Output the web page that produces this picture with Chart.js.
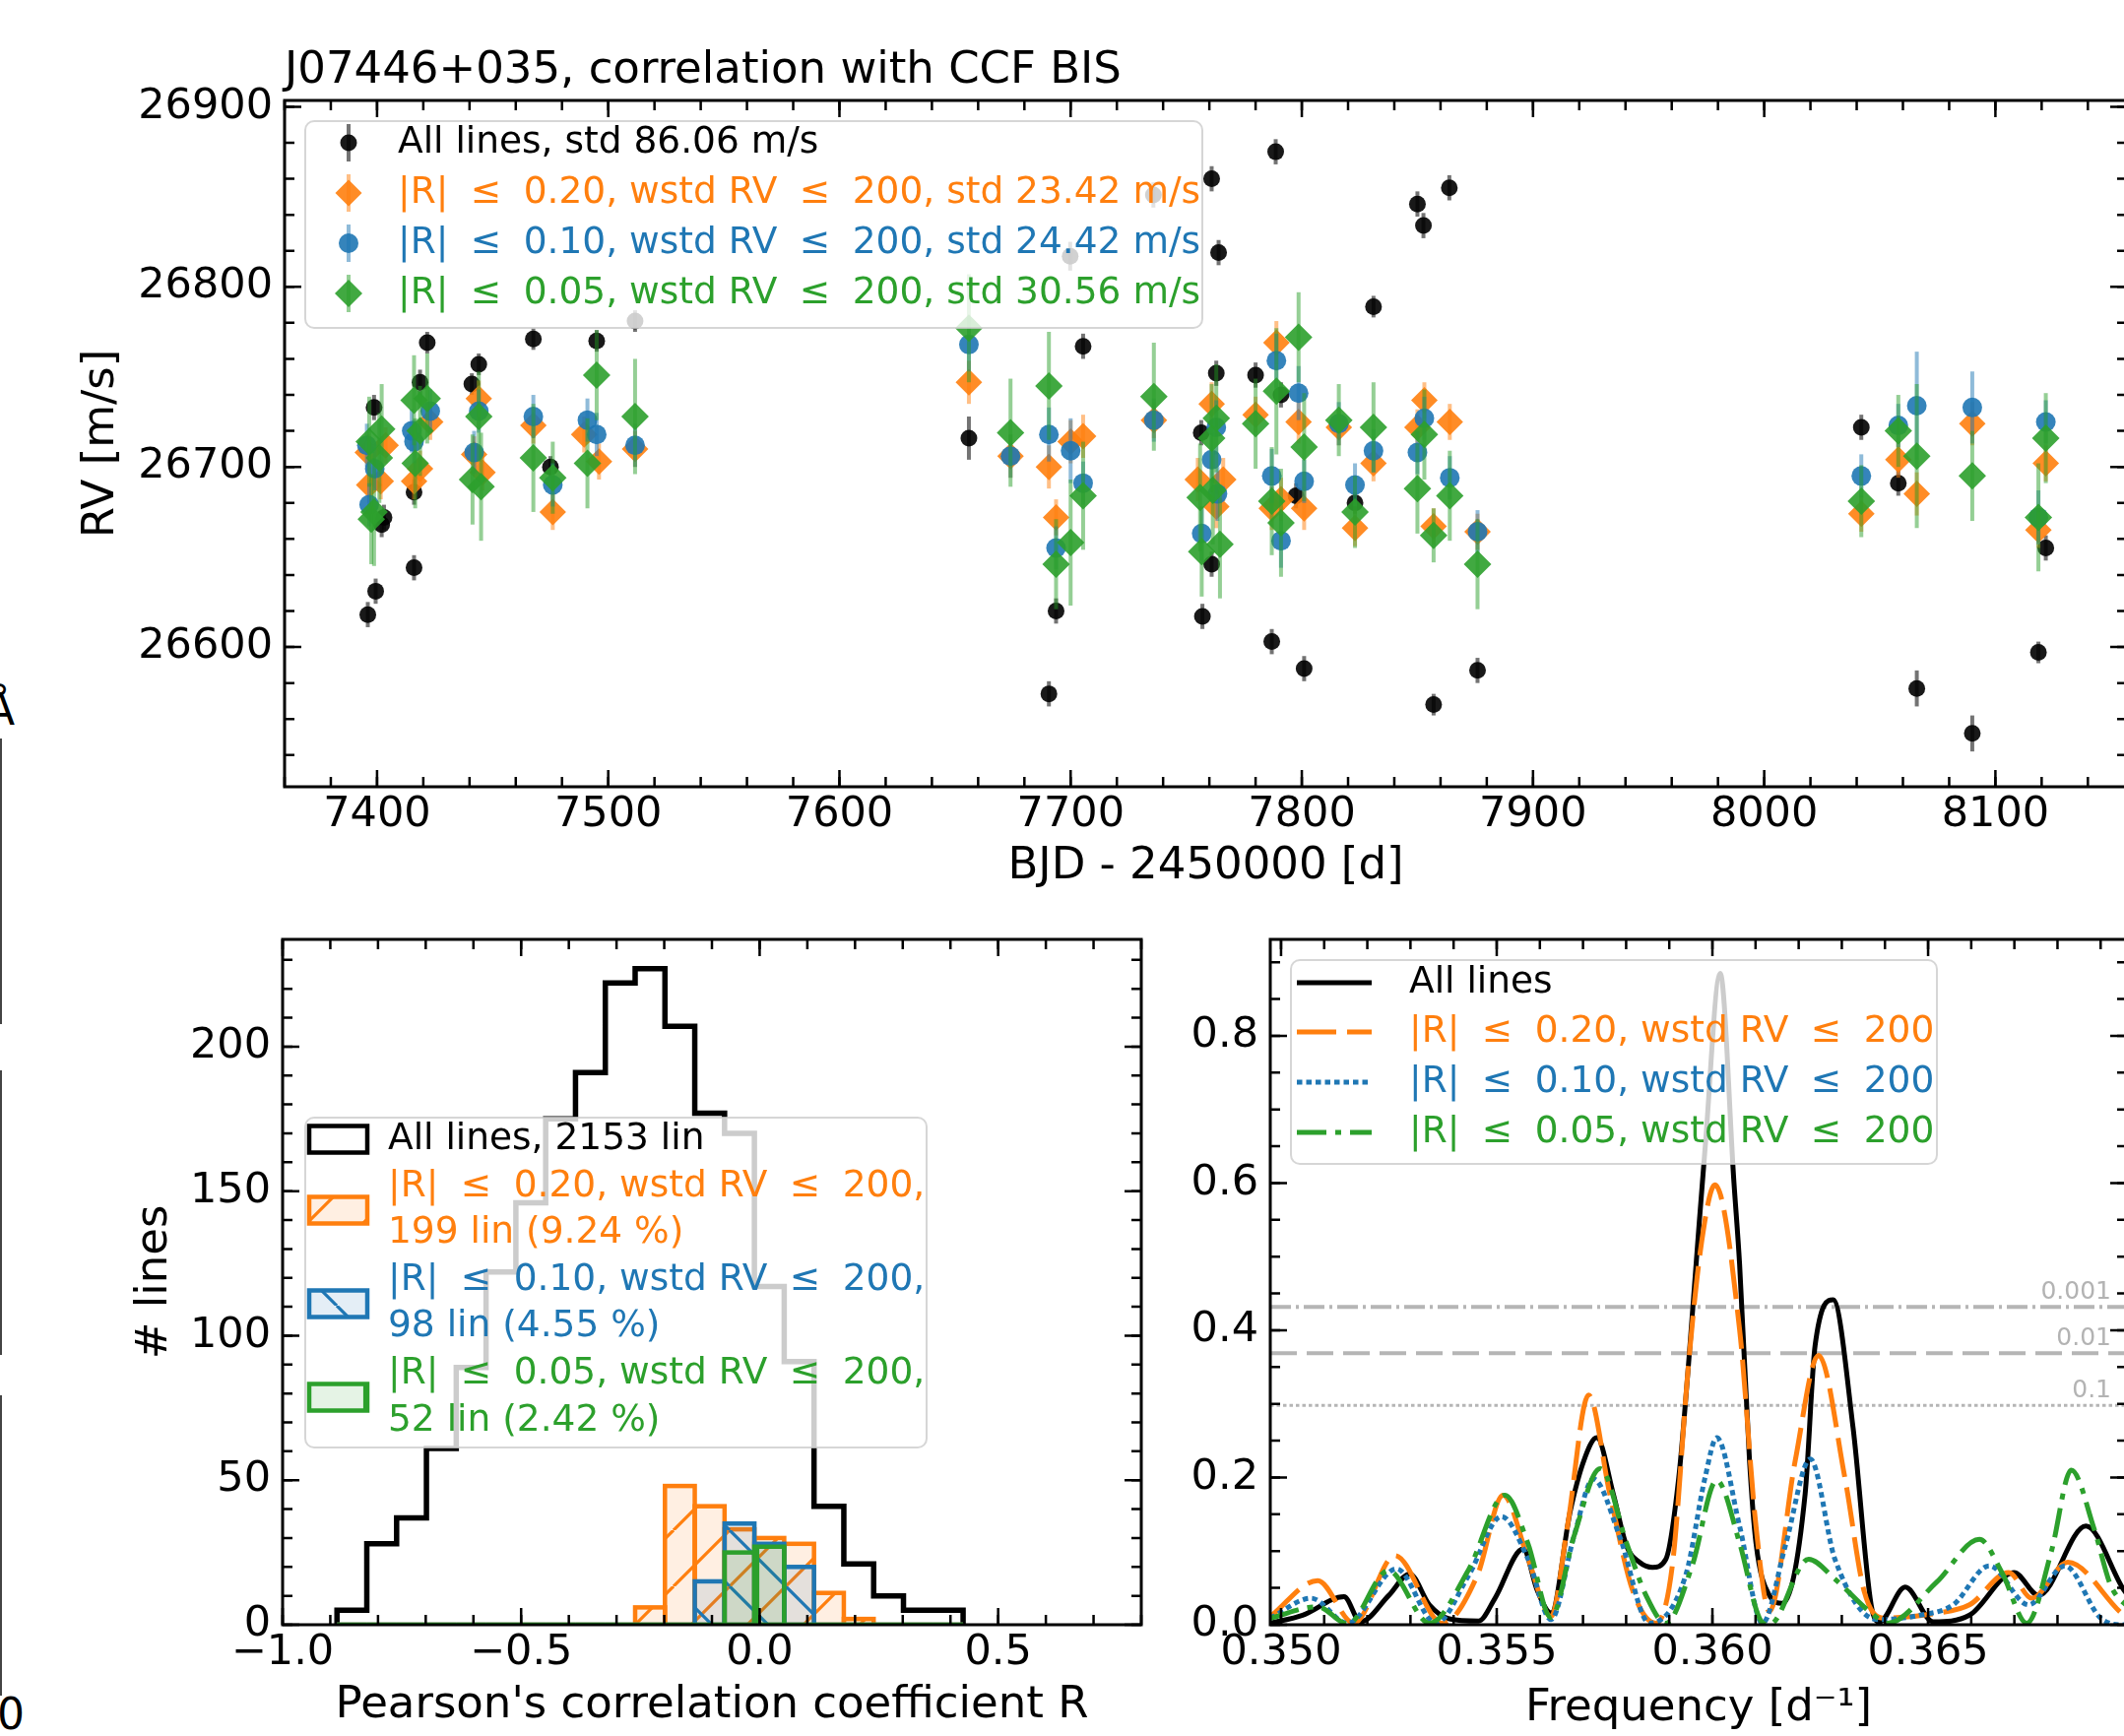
<!DOCTYPE html>
<html>
<head>
<meta charset="utf-8">
<script src="https://cdn.jsdelivr.net/npm/chart.js@4.4.1/dist/chart.umd.min.js"></script>
<style>
  html, body { margin: 0; padding: 0; background: #fff; overflow: hidden; width: 2157px; height: 1763px; }
  canvas { position: absolute; }
  #rv { left: 0; top: 0; }
  #hist { left: 0; top: 870px; }
  #per { left: 1180px; top: 870px; }
  .frag { position: absolute; font-family: 'DejaVu Sans', sans-serif; font-size: 44px; line-height: 44px; color: #000; }
  .fragline { position: absolute; left: 0; width: 2px; background: #444; }
</style>
</head>
<body>
<!-- bits of the neighbouring panel that got cut off on the left -->
<div class="frag" style="left:-15px; top:699px;">Å</div>
<div class="frag" style="left:-3px; top:1719px;">0</div>
<div class="fragline" style="top:750px; height:290px;"></div>
<div class="fragline" style="top:1087px; height:289px;"></div>
<div class="fragline" style="top:1417px; height:305px;"></div>

<canvas id="rv" width="2200" height="930" style="width:2200px;height:930px"></canvas>
<canvas id="hist" width="1200" height="893" style="width:1200px;height:893px"></canvas>
<canvas id="per" width="1020" height="893" style="width:1020px;height:893px"></canvas>

<script>
// ---- RV time series (BJD - 2450000, RV in m/s, 1-sigma error) ----
const allT   = [7396, 7399.4, 7398.7, 7402, 7403, 7416, 7416, 7418.6, 7421.7, 7441, 7444, 7467.6, 7475, 7495, 7511.6,
                7656, 7690.6, 7693.7, 7699.8, 7705.4, 7735.8, 7756.5, 7757, 7761, 7761, 7763, 7764, 7780, 7787, 7788.7,
                7791, 7797.5, 7801, 7823, 7831, 7850, 7852.6, 7857, 7863.8, 7876, 8042, 8058, 8066, 8090, 8118.6, 8121.8];
const allRV  = [26618, 26631, 26733, 26668, 26672, 26644, 26686, 26747, 26769, 26746, 26757, 26771, 26700, 26770, 26781,
                26716, 26574, 26620, 26817, 26767, 26851, 26719, 26617, 26860, 26646, 26752, 26819, 26751, 26603, 26875,
                26740, 26684, 26588, 26680, 26789, 26846, 26834, 26568, 26855, 26587, 26722, 26691, 26577, 26552, 26597, 26655];
const allErr = [7, 7, 7, 7, 7, 7, 7, 7, 6, 6, 6, 6, 6, 6, 6,
                12, 7, 7, 8, 7, 7, 7, 7, 7, 7, 7, 7, 7, 7, 7,
                7, 7, 7, 6, 6, 7, 7, 6, 7, 7, 7, 7, 10, 10, 6, 7];

const r20T   = [7396, 7396.6, 7401.6, 7403.7, 7416, 7418.6, 7423, 7442, 7444, 7445.6, 7467.6, 7476, 7489.6, 7496, 7511.6,
                7656, 7674, 7690.6, 7693.7, 7700, 7705.4, 7736, 7755, 7761, 7763, 7766, 7780, 7787, 7789, 7791,
                7798.6, 7801, 7816, 7823, 7831, 7850, 7853, 7857, 7864, 7876, 8042, 8058, 8066, 8090, 8118.6, 8121.8];
const r20RV  = [26708, 26690, 26692, 26712, 26692, 26699, 26725, 26707, 26738, 26697, 26723, 26675, 26718, 26703, 26710,
                26747, 26706, 26700, 26672, 26714, 26717, 26726, 26693, 26735, 26678, 26693, 26729, 26677, 26769, 26682,
                26725, 26677, 26722, 26666, 26702, 26722, 26737, 26667, 26725, 26664, 26674, 26704, 26685, 26724, 26665, 26702];
const r20Err = [10, 10, 10, 10, 10, 10, 10, 10, 10, 10, 10, 10, 10, 10, 10,
                12, 12, 12, 10, 12, 12, 10, 12, 12, 12, 12, 10, 12, 12, 12,
                12, 12, 10, 10, 10, 10, 10, 10, 10, 10, 10, 10, 12, 12, 10, 10];

const r10T   = [7395.6, 7396.6, 7399, 7415, 7416, 7423, 7442, 7444, 7467.6, 7476, 7491, 7495, 7511.6,
                7656, 7674, 7690.6, 7693.7, 7700, 7705.4, 7736, 7756.7, 7761, 7763, 7763.5, 7787, 7789, 7791, 7798.6,
                7801, 7816, 7823, 7831, 7850, 7853, 7864, 7876, 8042, 8058, 8066, 8090, 8118.6, 8121.8];
const r10RV  = [26712, 26679, 26699, 26720, 26714, 26731, 26708, 26731, 26728, 26690, 26726, 26718, 26712,
                26768, 26706, 26718, 26655, 26709, 26691, 26726, 26663, 26704, 26722, 26685, 26695, 26759, 26659, 26741,
                26692, 26724, 26690, 26709, 26708, 26727, 26694, 26664, 26695, 26723, 26734, 26733, 26672, 26725];
const r10Err = [12, 12, 12, 12, 12, 12, 12, 12, 12, 12, 12, 12, 12,
                15, 12, 15, 12, 18, 12, 12, 15, 15, 15, 15, 15, 15, 15, 15,
                12, 12, 12, 12, 12, 12, 12, 12, 12, 12, 30, 20, 15, 12];

const r05T   = [7396.6, 7397.5, 7398.7, 7401, 7402, 7416, 7416.5, 7418.6, 7421.7, 7441.3, 7444, 7445, 7467.6, 7476, 7491, 7495, 7511.6,
                7656, 7674, 7690.6, 7693.7, 7700, 7705.4, 7736, 7756, 7756.7, 7761, 7761.5, 7763, 7764.6, 7780, 7787, 7789, 7791,
                7798.6, 7801, 7816, 7823, 7831, 7850, 7853, 7857, 7864, 7876, 8042, 8058, 8066, 8090, 8118.6, 8121.8];
const r05RV  = [26714, 26671, 26675, 26705, 26721, 26737, 26702, 26720, 26738, 26693, 26728, 26689, 26705, 26694, 26702, 26751, 26728,
                26777, 26719, 26745, 26646, 26658, 26684, 26739, 26683, 26653, 26716, 26687, 26727, 26657, 26724, 26681, 26742, 26669,
                26772, 26711, 26726, 26675, 26722, 26688, 26718, 26662, 26684, 26646, 26681, 26720, 26706, 26695, 26672, 26716];
const r05Err = [25, 25, 30, 25, 25, 25, 25, 25, 25, 25, 25, 30, 30, 20, 25, 25, 32,
                30, 30, 30, 25, 35, 30, 30, 30, 25, 30, 30, 30, 30, 25, 30, 35, 30,
                25, 30, 20, 20, 25, 25, 25, 15, 25, 25, 20, 20, 40, 25, 30, 25];

const rvXTicks = [7400, 7500, 7600, 7700, 7800, 7900, 8000, 8100];
const rvYTicks = [26600, 26700, 26800, 26900];

// ---- histogram of Pearson R ----
const binEdges = [-0.886, -0.8235, -0.761, -0.6985, -0.636, -0.5735, -0.511, -0.4485, -0.386, -0.3235, -0.261,
                  -0.1985, -0.136, -0.0735, -0.011, 0.0515, 0.114, 0.1765, 0.239, 0.3015, 0.364, 0.4265];
const histAll = [5, 28, 37, 61, 89, 122, 146, 175, 191, 222, 227, 207, 177, 170, 117, 91, 41, 21, 10, 5, 5];
const histR20 = [0, 0, 0, 0, 0, 0, 0, 0, 0, 0, 6, 48, 41, 33, 30, 28, 11, 2, 0, 0, 0];
const histR10 = [0, 0, 0, 0, 0, 0, 0, 0, 0, 0, 0, 0, 15, 35, 28, 20, 0, 0, 0, 0, 0];
const histR05 = [0, 0, 0, 0, 0, 0, 0, 0, 0, 0, 0, 0, 0, 25, 27, 0, 0, 0, 0, 0, 0];
const histXTicks = [-1.0, -0.5, 0.0, 0.5];
const histYTicks = [0, 50, 100, 150, 200];

// ---- periodograms ----
const perAllF = [0.34975, 0.3505, 0.35146, 0.35184, 0.3525, 0.35298, 0.35344, 0.3539, 0.35458, 0.35496, 0.35561, 0.35595,
                 0.35626, 0.35671, 0.35702, 0.35732, 0.3577, 0.35801, 0.35831, 0.35861, 0.35892, 0.35922, 0.35945, 0.35968,
                 0.35983, 0.36018, 0.3605, 0.36063, 0.36086, 0.36101, 0.36132, 0.36162, 0.36215, 0.36238, 0.3628, 0.36326,
                 0.36368, 0.36387, 0.36447, 0.36512, 0.36596, 0.36699, 0.36756, 0.36866, 0.36954, 0.3697];
const perAllP = [0.002, 0.013, 0.038, 0.004, 0.04, 0.069, 0.027, 0.008, 0.005, 0.036, 0.103, 0.045,
                 0.016, 0.156, 0.223, 0.254, 0.178, 0.107, 0.085, 0.078, 0.089, 0.2, 0.357, 0.535,
                 0.647, 0.885, 0.6, 0.49, 0.223, 0.111, 0.04, 0.029, 0.178, 0.379, 0.4415, 0.268,
                 0.027, 0.004, 0.051, 0.004, 0.013, 0.071, 0.04, 0.134, 0.047, 0.035];
const perR20F = [0.34975, 0.35085, 0.35169, 0.35264, 0.35374, 0.35455, 0.35515, 0.35573, 0.35626, 0.35664, 0.35713, 0.35762,
                 0.35816, 0.35869, 0.35907, 0.35945, 0.35975, 0.36006, 0.36063, 0.36101, 0.36132, 0.36192, 0.36246, 0.36307,
                 0.36352, 0.36398, 0.3652, 0.36596, 0.36687, 0.3674, 0.36824, 0.36954, 0.3697];
const perR20P = [0.011, 0.060, 0.002, 0.094, 0.002, 0.067, 0.176, 0.089, 0.011, 0.134, 0.312, 0.178,
                 0.045, 0.002, 0.08, 0.357, 0.52, 0.5975, 0.401, 0.134, 0.018, 0.223, 0.366, 0.2,
                 0.045, 0.009, 0.0156, 0.027, 0.071, 0.036, 0.085, 0.013, 0.008];
const perR10F = [0.34975, 0.3507, 0.35154, 0.35268, 0.35359, 0.35435, 0.35511, 0.35572, 0.35626, 0.35679, 0.35724, 0.35785,
                 0.35854, 0.35938, 0.35983, 0.3601, 0.36063, 0.36116, 0.36169, 0.36227, 0.36284, 0.36383, 0.36482, 0.36558,
                 0.36642, 0.36733, 0.36817, 0.369, 0.36954, 0.3697];
const perR10P = [0.009, 0.036, 0.002, 0.076, 0.002, 0.067, 0.147, 0.09, 0.007, 0.12, 0.198, 0.12,
                 0.002, 0.067, 0.2, 0.254, 0.134, 0.002, 0.107, 0.225, 0.089, 0.007, 0.013, 0.027,
                 0.080, 0.027, 0.080, 0.009, 0.0, 0.0];
const perR05F = [0.34975, 0.35085, 0.35154, 0.35249, 0.35344, 0.35435, 0.35519, 0.35572, 0.35626, 0.35679, 0.3574, 0.35801,
                 0.35846, 0.35892, 0.35953, 0.3601, 0.36063, 0.36109, 0.36132, 0.36223, 0.36284, 0.36368, 0.36406, 0.3652,
                 0.36619, 0.36672, 0.36729, 0.36786, 0.36832, 0.36885, 0.36923, 0.3697];
const perR05P = [0.009, 0.0245, 0.001, 0.0736, 0.002, 0.075, 0.176, 0.111, 0.01, 0.12, 0.212, 0.111,
                 0.04, 0.002, 0.08, 0.196, 0.111, 0.009, 0.0, 0.089, 0.062, 0.016, 0.002, 0.058,
                 0.116, 0.07, 0.002, 0.1, 0.21, 0.13, 0.054, 0.02];
const fapLevels = [0.4316, 0.369, 0.298];
const fapLabels = ['0.001', '0.01', '0.1'];
const perXTicks = [0.350, 0.355, 0.360, 0.365];
const perYTicks = [0.0, 0.2, 0.4, 0.6, 0.8];

// ---------------------------------------------------------------
const FONT = "'DejaVu Sans', sans-serif";
const BLACK = '0,0,0', ORANGE = '255,127,14', BLUE = '31,119,180', GREEN = '44,160,44';
const rgba = (c, a) => `rgba(${c},${a})`;
const LEQ = '\u2002\u200A\u2264\u2002\u200A';
const pts = (xs, ys) => xs.map((x, i) => ({x: x, y: ys[i]}));
const fmtMinus = v => (v < 0 ? '\u2212' : '') + Math.abs(v).toFixed(1);

function fixedTicks(list) {
  return s => { s.ticks = list.map(v => ({value: v})); };
}

function axisCfg(o) {
  return {
    type: 'linear', min: o.min, max: o.max, offset: false,
    grid: {display: false, drawTicks: false}, border: {display: false},
    afterBuildTicks: fixedTicks(o.ticks),
    afterFit: o.fit,
    ticks: {color: '#000', font: {family: FONT, size: 43}, padding: o.pad, maxRotation: 0, autoSkip: false, callback: o.fmt},
    title: {display: !!o.title, text: o.title || '', color: '#000', font: {family: FONT, size: 45}, padding: 0}
  };
}

// matplotlib-like box with inward ticks on all four sides
function framePlugin(t) {
  return {
    id: 'frame',
    afterDatasetsDraw(chart) {
      const {ctx, chartArea: a} = chart;
      const sx = chart.scales.x, sy = chart.scales.y;
      ctx.save();
      ctx.strokeStyle = '#000';
      ctx.lineWidth = 2.5;
      const marks = (sc, step, len) => {
        const k0 = Math.ceil(sc.min / step - 1e-6), k1 = Math.floor(sc.max / step + 1e-6);
        for (let k = k0; k <= k1; k++) {
          const p = sc.getPixelForValue(k * step);
          ctx.beginPath();
          if (sc === sx) {
            ctx.moveTo(p, a.bottom); ctx.lineTo(p, a.bottom - len);
            ctx.moveTo(p, a.top); ctx.lineTo(p, a.top + len);
          } else {
            ctx.moveTo(a.left, p); ctx.lineTo(a.left + len, p);
            ctx.moveTo(a.right, p); ctx.lineTo(a.right - len, p);
          }
          ctx.stroke();
        }
      };
      marks(sx, t.xMinor, 10); marks(sx, t.xMajor, 17);
      marks(sy, t.yMinor, 10); marks(sy, t.yMajor, 17);
      ctx.lineWidth = 3;
      ctx.strokeRect(a.left, a.top, a.right - a.left, a.bottom - a.top);
      ctx.restore();
    }
  };
}

// vertical error bars, drawn just under each dataset's markers
const errorBars = {
  id: 'errorBars',
  beforeDatasetDraw(chart, args) {
    const ds = chart.data.datasets[args.index];
    if (!ds.errors) return;
    const {ctx, chartArea: a} = chart, sy = chart.scales.y;
    ctx.save();
    ctx.beginPath(); ctx.rect(a.left, a.top, a.right - a.left, a.bottom - a.top); ctx.clip();
    ctx.strokeStyle = ds.errorColor;
    ctx.lineWidth = 4;
    args.meta.data.forEach((p, i) => {
      const v = ds.data[i].y, e = ds.errors[i];
      ctx.beginPath();
      ctx.moveTo(p.x, sy.getPixelForValue(v - e));
      ctx.lineTo(p.x, sy.getPixelForValue(v + e));
      ctx.stroke();
    });
    ctx.restore();
  }
};

// bar edges centred on the bin edges (also draws zero-height bins as a line)
const barEdges = {
  id: 'barEdges',
  afterDatasetDraw(chart, args) {
    const ds = chart.data.datasets[args.index];
    if (!ds.edgeColor) return;
    const {ctx, chartArea: a} = chart;
    ctx.save();
    ctx.beginPath(); ctx.rect(a.left, a.top, a.right - a.left, a.bottom - a.top); ctx.clip();
    ctx.strokeStyle = ds.edgeColor;
    ctx.lineWidth = 4.5;
    ctx.lineJoin = 'miter';
    args.meta.data.forEach(bar => {
      const {x, y, base, width} = bar.getProps(['x', 'y', 'base', 'width'], true);
      ctx.strokeRect(x - width / 2, Math.min(y, base), width, Math.abs(base - y));
    });
    ctx.restore();
  }
};

function marker(ctx, shape, x, y, r, color) {
  ctx.fillStyle = color;
  ctx.beginPath();
  if (shape === 'circle') ctx.arc(x, y, r, 0, Math.PI * 2);
  else { ctx.moveTo(x, y - r); ctx.lineTo(x + r, y); ctx.lineTo(x, y + r); ctx.lineTo(x - r, y); ctx.closePath(); }
  ctx.fill();
}

function roundBox(ctx, x, y, w, h, r) {
  ctx.beginPath();
  ctx.moveTo(x + r, y);
  ctx.lineTo(x + w - r, y); ctx.arcTo(x + w, y, x + w, y + r, r);
  ctx.lineTo(x + w, y + h - r); ctx.arcTo(x + w, y + h, x + w - r, y + h, r);
  ctx.lineTo(x + r, y + h); ctx.arcTo(x, y + h, x, y + h - r, r);
  ctx.lineTo(x, y + r); ctx.arcTo(x, y, x + r, y, r);
  ctx.closePath();
}

function legendPlugin(L) {
  return {
    id: 'mplLegend',
    afterDraw(chart) {
      const ctx = chart.ctx;
      ctx.save();
      roundBox(ctx, L.x, L.y, L.w, L.h, 9);
      ctx.fillStyle = 'rgba(255,255,255,0.8)';
      ctx.fill();
      ctx.lineWidth = 2;
      ctx.strokeStyle = 'rgba(204,204,204,0.8)';
      ctx.stroke();
      for (const it of L.items) {
        const hy = it.hy;
        if (it.kind === 'err') {
          ctx.strokeStyle = it.errColor; ctx.lineWidth = 4;
          ctx.beginPath(); ctx.moveTo(L.hx, hy - 19); ctx.lineTo(L.hx, hy + 19); ctx.stroke();
          marker(ctx, it.shape, L.hx, hy, it.r, it.color);
        } else if (it.kind === 'patch') {
          if (it.fill) { ctx.fillStyle = it.fill; ctx.fillRect(L.hx, hy - 13.5, 59, 27); }
          ctx.strokeStyle = it.color; ctx.lineWidth = 4.5;
          ctx.strokeRect(L.hx, hy - 13.5, 59, 27);
        } else {
          ctx.strokeStyle = it.color; ctx.lineWidth = 5;
          ctx.setLineDash(it.dash || []);
          ctx.beginPath(); ctx.moveTo(L.hx, hy); ctx.lineTo(L.hx2, hy); ctx.stroke();
          ctx.setLineDash([]);
        }
        ctx.font = `37.5px ${FONT}`;
        ctx.textAlign = 'left';
        ctx.textBaseline = 'middle';
        ctx.fillStyle = it.textColor;
        it.lines.forEach((s, k) => ctx.fillText(s, L.textX, it.ty[k]));
      }
      ctx.restore();
    }
  };
}

const common = {
  responsive: false, animation: false, events: []
};

// ================= top panel: RV vs time =================
new Chart(document.getElementById('rv'), {
  type: 'scatter',
  data: {
    datasets: [
      {label: 'All lines', data: pts(allT, allRV), errors: allErr, errorColor: 'rgba(0,0,0,0.55)',
       pointStyle: 'circle', pointRadius: 8.5, backgroundColor: rgba(BLACK, 0.9), borderWidth: 0, order: 4, clip: 0},
      {label: 'R20', data: pts(r20T, r20RV), errors: r20Err, errorColor: rgba(ORANGE, 0.5),
       pointStyle: 'rectRot', pointRadius: 13.5, backgroundColor: rgba(ORANGE, 0.9), borderWidth: 0, order: 3, clip: 0},
      {label: 'R10', data: pts(r10T, r10RV), errors: r10Err, errorColor: rgba(BLUE, 0.5),
       pointStyle: 'circle', pointRadius: 10, backgroundColor: rgba(BLUE, 0.9), borderWidth: 0, order: 2, clip: 0},
      {label: 'R05', data: pts(r05T, r05RV), errors: r05Err, errorColor: rgba(GREEN, 0.5),
       pointStyle: 'rectRot', pointRadius: 14, backgroundColor: rgba(GREEN, 0.9), borderWidth: 0, order: 1, clip: 0}
    ]
  },
  options: Object.assign({}, common, {
    layout: {padding: {left: 76, top: 45, right: 40, bottom: 23}, autoPadding: false},
    plugins: {
      legend: {display: false}, tooltip: {enabled: false},
      title: {display: true, text: 'J07446+035, correlation with CCF BIS', align: 'start', fullSize: false,
              color: '#000', font: {family: FONT, size: 45, weight: 'normal'}, padding: {top: 0, bottom: 3}}
    },
    scales: {
      x: axisCfg({min: 7360, max: 8156.9, ticks: rvXTicks, pad: 3, fmt: v => String(v),
                  title: 'BJD - 2450000 [d]', fit: s => { s.height = 108; }}),
      y: axisCfg({min: 26522.4, max: 26903.5, ticks: rvYTicks, pad: 12, fmt: v => String(v),
                  title: 'RV [m/s]', fit: s => { s.width = 213; }})
    }
  }),
  plugins: [errorBars, framePlugin({xMajor: 100, xMinor: 20, yMajor: 100, yMinor: 20}), legendPlugin({
    x: 310, y: 123, w: 911, h: 210, hx: 354, textX: 404,
    items: [
      {kind: 'err', shape: 'circle', r: 8.5, color: rgba(BLACK, 0.9), errColor: 'rgba(0,0,0,0.55)', hy: 145, ty: [145],
       textColor: '#000', lines: ['All lines, std 86.06 m/s']},
      {kind: 'err', shape: 'diamond', r: 13.5, color: rgba(ORANGE, 0.9), errColor: rgba(ORANGE, 0.5), hy: 196, ty: [196],
       textColor: rgba(ORANGE, 1), lines: ['|R|' + LEQ + '0.20, wstd RV' + LEQ + '200, std 23.42 m/s']},
      {kind: 'err', shape: 'circle', r: 10, color: rgba(BLUE, 0.9), errColor: rgba(BLUE, 0.5), hy: 247, ty: [247],
       textColor: rgba(BLUE, 1), lines: ['|R|' + LEQ + '0.10, wstd RV' + LEQ + '200, std 24.42 m/s']},
      {kind: 'err', shape: 'diamond', r: 14, color: rgba(GREEN, 0.9), errColor: rgba(GREEN, 0.5), hy: 298, ty: [298],
       textColor: rgba(GREEN, 1), lines: ['|R|' + LEQ + '0.05, wstd RV' + LEQ + '200, std 30.56 m/s']}
    ]
  })]
});

// ================= bottom left: histogram of R =================
const histCanvas = document.getElementById('hist');
const hctx = histCanvas.getContext('2d');
function hatch(kind, c) {
  const S = 57, tile = document.createElement('canvas');
  tile.width = S; tile.height = S;
  const g = tile.getContext('2d');
  g.fillStyle = rgba(c, 0.12);
  g.fillRect(0, 0, S, S);
  g.strokeStyle = rgba(c, 1);
  g.lineWidth = 3.2;
  g.beginPath();
  if (kind === '/') { for (const o of [-S, 0, S]) { g.moveTo(o, S); g.lineTo(o + S, 0); } }
  else if (kind === '\\') { for (const o of [-S, 0, S]) { g.moveTo(o, 0); g.lineTo(o + S, S); } }
  else { g.moveTo(S / 2, 0); g.lineTo(S / 2, S); }
  g.stroke();
  return hctx.createPattern(tile, 'repeat');
}
const hatchR20 = hatch('/', ORANGE), hatchR10 = hatch('\\', BLUE), hatchR05 = hatch('|', GREEN);

const binCenters = histAll.map((_, i) => (binEdges[i] + binEdges[i + 1]) / 2);
const stepAll = [{x: binEdges[0], y: 0}]
  .concat(histAll.map((h, i) => ({x: binEdges[i], y: h})))
  .concat([{x: binEdges[binEdges.length - 1], y: 0}]);
const barSet = (label, counts, fill, edge, order) => ({
  type: 'bar', label: label, data: pts(binCenters, counts), backgroundColor: fill, borderWidth: 0,
  edgeColor: edge, grouped: false, barPercentage: 1, categoryPercentage: 1, order: order, clip: 0
});

new Chart(histCanvas, {
  type: 'bar',
  data: {
    datasets: [
      {type: 'line', label: 'All lines', data: stepAll, stepped: true, borderColor: '#000', borderWidth: 5.5,
       pointRadius: 0, fill: false, order: 5, clip: 0},
      barSet('R20', histR20, hatchR20, rgba(ORANGE, 1), 4),
      barSet('R10', histR10, hatchR10, rgba(BLUE, 1), 3),
      barSet('R05', histR05, hatchR05, rgba(GREEN, 1), 2)
    ]
  },
  options: Object.assign({}, common, {
    layout: {padding: {left: 130, top: 84, right: 41, bottom: 4}, autoPadding: false},
    plugins: {legend: {display: false}, tooltip: {enabled: false}},
    scales: {
      x: axisCfg({min: -1.0, max: 0.8, ticks: histXTicks, pad: 3, fmt: fmtMinus,
                  title: "Pearson's correlation coefficient R", fit: s => { s.height = 109; }}),
      y: axisCfg({min: 0, max: 237.1, ticks: histYTicks, pad: 12, fmt: v => String(v),
                  title: '# lines', fit: s => { s.width = 157; }})
    }
  }),
  plugins: [barEdges, framePlugin({xMajor: 0.5, xMinor: 0.1, yMajor: 50, yMinor: 10}), legendPlugin({
    x: 310, y: 265, w: 631, h: 335, hx: 314, textX: 394,
    items: [
      {kind: 'patch', color: '#000', fill: null, hy: 287, ty: [287], textColor: '#000', lines: ['All lines, 2153 lin']},
      {kind: 'patch', color: rgba(ORANGE, 1), fill: hatchR20, hy: 359, ty: [335, 382], textColor: rgba(ORANGE, 1),
       lines: ['|R|' + LEQ + '0.20, wstd RV' + LEQ + '200,', '199 lin (9.24 %)']},
      {kind: 'patch', color: rgba(BLUE, 1), fill: hatchR10, hy: 454, ty: [430, 477], textColor: rgba(BLUE, 1),
       lines: ['|R|' + LEQ + '0.10, wstd RV' + LEQ + '200,', '98 lin (4.55 %)']},
      {kind: 'patch', color: rgba(GREEN, 1), fill: hatchR05, hy: 549, ty: [525, 573], textColor: rgba(GREEN, 1),
       lines: ['|R|' + LEQ + '0.05, wstd RV' + LEQ + '200,', '52 lin (2.42 %)']}
    ]
  })]
});

// ================= bottom right: periodograms =================
const perXMin = 0.34975, perXMax = 0.36961;
const fapDash = [[21, 5, 3, 5], [27, 10], [3.5, 3]];
const fapSets = fapLevels.map((lv, i) => ({
  label: 'FAP ' + fapLabels[i], data: [{x: perXMin, y: lv}, {x: perXMax, y: lv}],
  borderColor: '#b5b5b5', borderWidth: i === 2 ? 3 : 4, borderDash: fapDash[i], pointRadius: 0, fill: false, order: 6, clip: 0
}));
const curve = (label, f, p, color, dash, order) => ({
  label: label, data: pts(f, p), borderColor: color, borderWidth: 5, borderDash: dash, pointRadius: 0,
  fill: false, cubicInterpolationMode: 'monotone', order: order, clip: 0
});
const fapText = {
  id: 'fapText',
  afterDatasetsDraw(chart) {
    const {ctx} = chart, sy = chart.scales.y;
    ctx.save();
    ctx.font = `25px ${FONT}`;
    ctx.fillStyle = '#b3b3b3';
    ctx.textAlign = 'right';
    ctx.textBaseline = 'middle';
    fapLevels.forEach((lv, i) => ctx.fillText(fapLabels[i], 964, sy.getPixelForValue(lv) - 15));
    ctx.restore();
  }
};

new Chart(document.getElementById('per'), {
  type: 'line',
  data: {
    datasets: fapSets.concat([
      curve('All lines', perAllF, perAllP, '#000', [], 4),
      curve('R20', perR20F, perR20P, rgba(ORANGE, 1), [40, 11], 3),
      curve('R10', perR10F, perR10P, rgba(BLUE, 1), [5.5, 4], 2),
      curve('R05', perR05F, perR05P, rgba(GREEN, 1), [30, 9, 6, 9], 1)
    ])
  },
  options: Object.assign({}, common, {
    layout: {padding: {left: 0, top: 84, right: 40, bottom: 1}, autoPadding: false},
    plugins: {legend: {display: false}, tooltip: {enabled: false}},
    scales: {
      x: axisCfg({min: perXMin, max: perXMax, ticks: perXTicks, pad: 3, fmt: v => v.toFixed(3),
                  title: 'Frequency [d\u207B\u00B9]', fit: s => { s.height = 112; }}),
      y: axisCfg({min: 0, max: 0.931, ticks: perYTicks, pad: 12, fmt: v => v.toFixed(1),
                  fit: s => { s.width = 110; }})
    }
  }),
  plugins: [fapText, framePlugin({xMajor: 0.005, xMinor: 0.001, yMajor: 0.2, yMinor: 0.05}), legendPlugin({
    x: 131, y: 105, w: 656, h: 207, hx: 137, hx2: 213, textX: 251,
    items: [
      {kind: 'line', color: '#000', dash: [], hy: 128, ty: [128], textColor: '#000', lines: ['All lines']},
      {kind: 'line', color: rgba(ORANGE, 1), dash: [40, 11], hy: 178, ty: [178], textColor: rgba(ORANGE, 1),
       lines: ['|R|' + LEQ + '0.20, wstd RV' + LEQ + '200']},
      {kind: 'line', color: rgba(BLUE, 1), dash: [5.5, 4], hy: 229, ty: [229], textColor: rgba(BLUE, 1),
       lines: ['|R|' + LEQ + '0.10, wstd RV' + LEQ + '200']},
      {kind: 'line', color: rgba(GREEN, 1), dash: [30, 9, 6, 9], hy: 280, ty: [280], textColor: rgba(GREEN, 1),
       lines: ['|R|' + LEQ + '0.05, wstd RV' + LEQ + '200']}
    ]
  })]
});
</script>
</body>
</html>
